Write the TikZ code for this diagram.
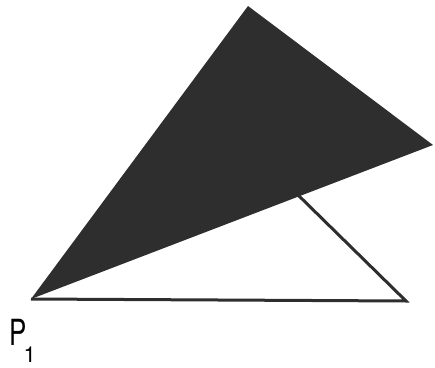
\documentclass[tikz,border=0pt]{standalone}
\usepackage{fontspec}
\setmainfont{TeX Gyre Heros}
\usepackage{tikz}
\usetikzlibrary{calc}
\definecolor{darkfill}{RGB}{46,46,46}

\begin{document}
\begin{tikzpicture}[x=1pt, y=1pt]
\useasboundingbox (0,0) rectangle (435,367);

% Corner points
\coordinate (P1) at (31,68);
\coordinate (apex) at (248,361);
\coordinate (tip) at (433,222);
\coordinate (base) at (406,66);
\coordinate (hidden) at (296,174);

% Outlined triangle (partly behind)
\draw[line width=3pt, line join=miter, draw=darkfill] (P1) -- (base) -- (hidden);

% Dark triangle
\fill[darkfill] (P1) -- (apex) -- (tip) -- cycle;

% Label of the corner
\node[font=\fontsize{36}{36}\selectfont, inner sep=0pt, anchor=base] (plab) at (18,22)
  {\scalebox{0.72}[1]{P}\rlap{\hspace{-3pt}\raisebox{-17pt}{\fontsize{22}{22}\selectfont 1}}};

\end{tikzpicture}
\end{document}
